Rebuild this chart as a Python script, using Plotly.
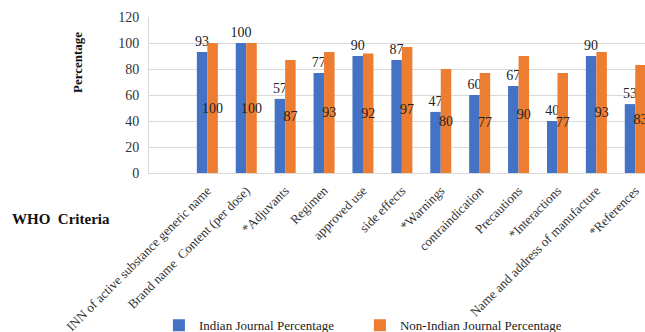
import plotly.graph_objects as go

# WHO criteria (first slot left empty, as in the source layout)
criteria = [
    "",
    "INN of active substance generic name",
    "Brand name  Content (per dose)",
    "*Adjuvants",
    "Regimen",
    "approved use",
    "side effects",
    "*Warnings",
    "contraindication",
    "Precautions",
    "*Interactions",
    "Name and address of manufacture",
    "*References",
]
indian_pct = [None, 93, 100, 57, 77, 90, 87, 47, 60, 67, 40, 90, 53]
non_indian_pct = [None, 100, 100, 87, 93, 92, 97, 80, 77, 90, 77, 93, 83]

BLUE = "#4472C4"
ORANGE = "#ED7D31"
SERIF = "Liberation Serif"


def labels(vals):
    return ["" if v is None else str(v) for v in vals]


x_idx = list(range(len(criteria)))

fig = go.Figure()
fig.add_trace(go.Bar(
    x=x_idx, y=indian_pct, name="Indian Journal Percentage",
    marker=dict(color=BLUE, line=dict(width=0)),
    text=labels(indian_pct), textposition="outside", textangle=0,
    constraintext="none", cliponaxis=False,
    outsidetextfont=dict(family=SERIF, size=14, color="#222222"),
))
fig.add_trace(go.Bar(
    x=x_idx, y=non_indian_pct, name="Non-Indian Journal Percentage",
    marker=dict(color=ORANGE, line=dict(width=0)),
    text=labels(non_indian_pct), textposition="inside", textangle=0,
    insidetextanchor="middle", constraintext="none", cliponaxis=True,
    insidetextfont=dict(family=SERIF, size=14, color="#222222"),
))

fig.update_layout(
    width=645, height=332,
    margin=dict(l=149, r=0, t=17, b=159, autoexpand=False),
    paper_bgcolor="white", plot_bgcolor="white",
    barmode="group", bargap=0.46, bargroupgap=0,
    font=dict(family=SERIF, size=13, color="#333333"),
    showlegend=True,
    legend=dict(
        orientation="h", x=0.02, xanchor="left", y=-0.88, yanchor="top",
        font=dict(family=SERIF, size=13, color="#222222"),
        entrywidth=156, entrywidthmode="pixels",
        itemsizing="constant", itemwidth=30, bgcolor="rgba(0,0,0,0)",
    ),
    annotations=[
        dict(text="<b>Percentage</b>", textangle=-90, xref="paper", yref="paper",
             x=(78 - 149) / 496, y=(173 - 63) / 156, xanchor="center", yanchor="middle",
             showarrow=False, font=dict(family=SERIF, size=13, color="#111111")),
        dict(text="<b>WHO  Criteria</b>", xref="paper", yref="paper",
             x=(10 - 149) / 496, y=(173 - 219) / 156, xanchor="left", yanchor="middle",
             showarrow=False, font=dict(family=SERIF, size=15, color="#111111")),
    ],
)

fig.update_xaxes(
    range=[-0.5, 12.25],
    tickmode="array", tickvals=x_idx, ticktext=criteria,
    tickangle=-45, ticks="", ticklabelstandoff=4,
    tickfont=dict(family=SERIF, size=13, color="#333333"),
    showline=True, linecolor="#d9d9d9", linewidth=1,
    showgrid=False, zeroline=False, fixedrange=True,
)
fig.update_yaxes(
    range=[0, 120], dtick=20, tick0=0,
    showgrid=True, gridcolor="#d9d9d9", gridwidth=1,
    showline=True, linecolor="#d9d9d9", linewidth=1,
    zeroline=False, ticks="", ticklabelstandoff=6,
    tickfont=dict(family=SERIF, size=14, color="#333333"),
    fixedrange=True,
)

fig.write_html("out.html")
